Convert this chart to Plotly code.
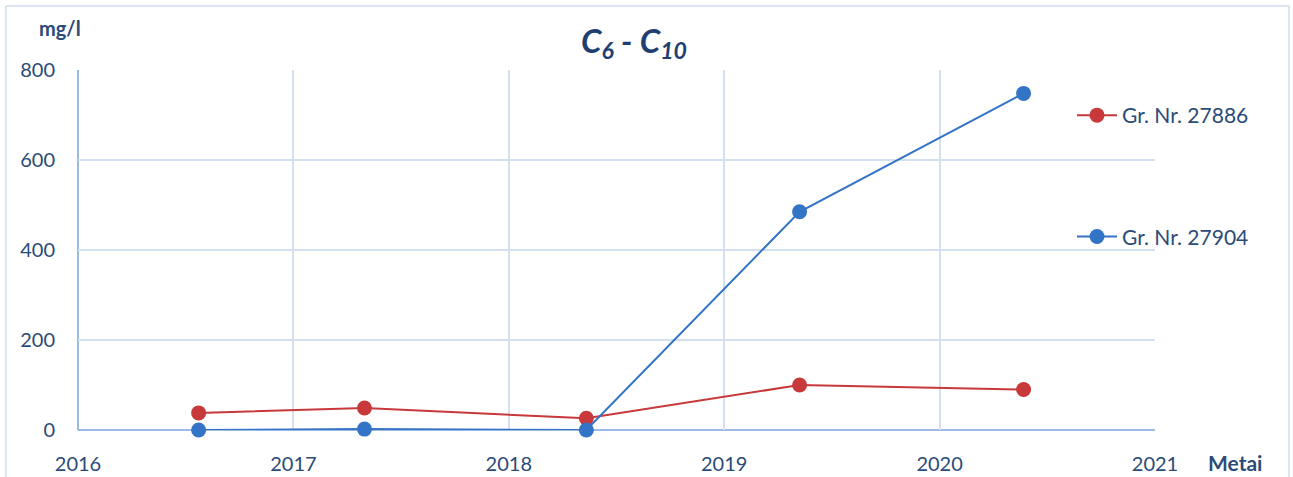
import plotly.graph_objects as go

# Sampling dates expressed as fractional years
years = [2016.56, 2017.33, 2018.36, 2019.35, 2020.39]

# C6 - C10 concentration, mg/l
well_27886 = [38, 49, 26, 100, 90]
well_27904 = [0, 2, 0, 485, 748]

series_names = ["Gr. Nr. 27886", "Gr. Nr. 27904"]
x_ticks = [2016, 2017, 2018, 2019, 2020, 2021]
y_ticks = [0, 200, 400, 600, 800]

RED = "#C8393B"
BLUE = "#3474C6"
TEXT = "#2B4B78"
GRID = "#D3E0F2"
AXIS = "#7BA3DA"
FRAME = "#CFDCEF"
FONT = "Lato, 'Open Sans', sans-serif"

W, H = 1293, 477
L, R, T, B = 78, 138, 70, 47

fig = go.Figure()
for name, vals, col, grp in [
    (series_names[0], well_27886, RED, "a"),
    (series_names[1], well_27904, BLUE, "b"),
]:
    fig.add_trace(go.Scatter(
        x=years, y=vals, name=name, mode="lines+markers",
        legendgroup=grp,
        line=dict(color=col, width=2),
        marker=dict(color=col, size=15, line=dict(width=0)),
        cliponaxis=False,
    ))

pw = W - L - R
ph = H - T - B


def px_x(p):
    return (p - L) / pw


def px_y(p):
    return (H - B - p) / ph


frame_line = dict(color=FRAME, width=1.5)

fig.update_layout(
    width=W, height=H,
    margin=dict(l=L, r=R, t=T, b=B, autoexpand=False),
    paper_bgcolor="white", plot_bgcolor="white",
    font=dict(family=FONT, color=TEXT, size=18),
    showlegend=True,
    legend=dict(
        x=px_x(1072), y=px_y(95), xanchor="left", yanchor="top",
        traceorder="grouped", tracegroupgap=91,
        font=dict(size=21, color=TEXT),
        bgcolor="rgba(0,0,0,0)", itemwidth=40,
    ),
    title=dict(
        text="<b><i>C<sub>6</sub> - C<sub>10</sub></i></b>",
        x=px_x(634), xanchor="center", xref="paper",
        y=1 - 41 / H, yanchor="middle", yref="container",
        font=dict(size=33, color="#1F3F72", family=FONT),
    ),
    xaxis=dict(
        range=[x_ticks[0], x_ticks[-1]], tickvals=x_ticks,
        ticktext=[str(v) for v in x_ticks],
        showgrid=True, gridcolor=GRID, gridwidth=1.5,
        zeroline=False, showline=False, ticks="", automargin=False,
        ticklabelstandoff=20, tickfont=dict(size=20, color=TEXT),
    ),
    yaxis=dict(
        range=[y_ticks[0], y_ticks[-1]], tickvals=y_ticks,
        showgrid=True, gridcolor=GRID, gridwidth=1.5,
        zeroline=False, showline=False, ticks="", automargin=False,
        ticklabelstandoff=22, tickfont=dict(size=20, color=TEXT),
    ),
    annotations=[
        dict(text="<b>mg/l</b>", x=px_x(60), y=px_y(28), xref="paper", yref="paper",
             xanchor="center", yanchor="middle",
             showarrow=False, font=dict(size=20, color=TEXT)),
        dict(text="<b>Metai</b>", x=px_x(1235), y=px_y(463), xref="paper", yref="paper",
             xanchor="center", yanchor="middle",
             showarrow=False, font=dict(size=21, color=TEXT)),
    ],
    shapes=[
        # outer chart frame (left, top, right edges)
        dict(type="line", xref="paper", yref="paper",
             x0=px_x(6), x1=px_x(6), y0=px_y(H), y1=px_y(6), line=frame_line, layer="below"),
        dict(type="line", xref="paper", yref="paper",
             x0=px_x(6), x1=px_x(1289), y0=px_y(6), y1=px_y(6), line=frame_line, layer="below"),
        dict(type="line", xref="paper", yref="paper",
             x0=px_x(1289), x1=px_x(1289), y0=px_y(H), y1=px_y(6), line=frame_line, layer="below"),
        # left and bottom axis lines
        dict(type="line", xref="x domain", yref="y domain", x0=0, x1=0, y0=0, y1=1,
             line=dict(color=AXIS, width=1.5), layer="below"),
        dict(type="line", xref="x domain", yref="y domain", x0=0, x1=1, y0=0, y1=0,
             line=dict(color=AXIS, width=1.5), layer="below"),
    ],
)

fig.write_html("out.html")
